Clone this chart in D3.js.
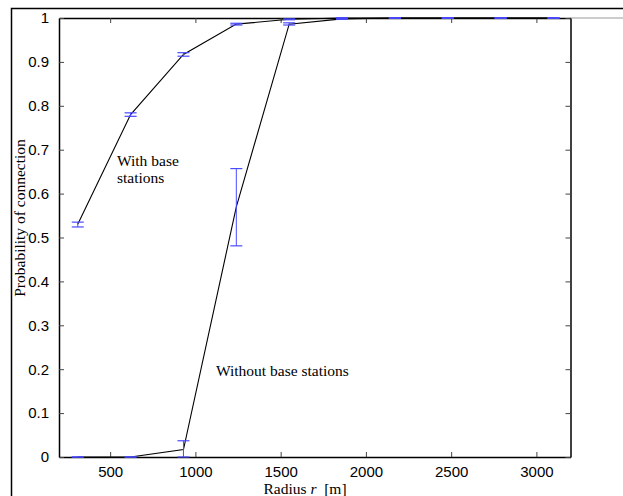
<!DOCTYPE html>
<html>
<head>
<meta charset="utf-8">
<script src="https://cdn.jsdelivr.net/npm/d3@7"></script>
<style>
  html, body { margin: 0; padding: 0; background: #fff; }
  svg { display: block; }
</style>
</head>
<body>
<svg id="chart" width="623" height="496"></svg>
<script>
// ---- data ----
const radius = [310, 620, 930, 1240, 1550, 1860, 2170, 2480, 2790, 3100];
const withBS = [0.530, 0.780, 0.917, 0.986, 0.997, 1, 1, 1, 1, 1];
const withBSLow = [0.524, 0.776, 0.913, 0.984, 0.996, 1, 1, 1, 1, 1];
const withBSHigh = [0.535, 0.784, 0.921, 0.988, 0.998, 1, 1, 1, 1, 1];
const withoutBS = [0, 0, 0.017, 0.570, 0.986, 0.998, 1, 1, 1, 1];
const withoutBSLow = [0, 0, 0, 0.481, 0.984, 0.997, 1, 1, 1, 1];
const withoutBSHigh = [0, 0, 0.037, 0.657, 0.989, 1, 1, 1, 1, 1];
const xTicks = [500, 1000, 1500, 2000, 2500, 3000];
const yTicks = [0, 0.1, 0.2, 0.3, 0.4, 0.5, 0.6, 0.7, 0.8, 0.9, 1];
const yTickLabels = ["0", "0.1", "0.2", "0.3", "0.4", "0.5", "0.6", "0.7", "0.8", "0.9", "1"];

const svg = d3.select("#chart");
const L = 59, R = 570.5, T = 18, B = 457;
const x = d3.scaleLinear().domain([200, 3200]).range([L, R]);
const y = d3.scaleLinear().domain([0, 1]).range([B, T]);

// outer frame
svg.append("path").attr("d", `M11.5,496 L11.5,8.5 L623,8.5`)
  .attr("fill", "none").attr("stroke", "#000").attr("stroke-width", 1.5);

// top axis line extension to the right edge
svg.append("line").attr("x1", R).attr("x2", 623).attr("y1", T).attr("y2", T)
  .attr("stroke", "#999").attr("stroke-width", 1);

// axes
const tickColor = "#444";
const fontSans = "'Liberation Sans', Arial, sans-serif";
const fontSerif = "'Liberation Serif', 'Times New Roman', serif";

const xBottom = svg.append("g").attr("transform", `translate(0,${B})`)
  .call(d3.axisBottom(x).tickValues(xTicks).tickSizeInner(-5).tickSizeOuter(0).tickPadding(9).tickFormat(d3.format("d")));
const xTop = svg.append("g").attr("transform", `translate(0,${T})`)
  .call(d3.axisTop(x).tickValues(xTicks).tickSizeInner(-5).tickSizeOuter(0).tickFormat(""));
const yLeft = svg.append("g").attr("transform", `translate(${L},0)`)
  .call(d3.axisLeft(y).tickValues(yTicks).tickSizeInner(-5).tickSizeOuter(0).tickPadding(10)
    .tickFormat((d, i) => yTickLabels[i]));
const yRight = svg.append("g").attr("transform", `translate(${R},0)`)
  .call(d3.axisRight(y).tickValues(yTicks).tickSizeInner(-5).tickSizeOuter(0).tickFormat(""));

[xBottom, xTop, yLeft, yRight].forEach(g => {
  g.select(".domain").attr("stroke", "#000").attr("stroke-width", 1.5);
  g.selectAll(".tick line").attr("stroke", tickColor).attr("stroke-width", 1);
  g.selectAll("text").attr("font-family", fontSans).attr("font-size", 15).attr("fill", "#000");
});

// series lines
const line = d3.line().x(d => x(d[0])).y(d => y(d[1]));
svg.append("path").datum(radius.map((r, i) => [r, withBS[i]]))
  .attr("d", line).attr("fill", "none").attr("stroke", "#000").attr("stroke-width", 1.1);
svg.append("path").datum(radius.map((r, i) => [r, withoutBS[i]]))
  .attr("d", line).attr("fill", "none").attr("stroke", "#000").attr("stroke-width", 1.1);

// error bars
const blue = "#4a4aff";
const cap = 6;
function errorBars(lo, hi) {
  const g = svg.append("g");
  radius.forEach((r, i) => {
    const cx = x(r);
    g.append("line").attr("x1", cx).attr("x2", cx).attr("y1", y(lo[i])).attr("y2", y(hi[i]))
      .attr("stroke", blue).attr("stroke-width", 1);
    [lo[i], hi[i]].forEach(v => {
      g.append("line").attr("x1", cx - cap).attr("x2", cx + cap).attr("y1", y(v)).attr("y2", y(v))
        .attr("stroke", blue).attr("stroke-width", 1.2);
    });
  });
}
errorBars(withBSLow, withBSHigh);
errorBars(withoutBSLow, withoutBSHigh);

// annotations
svg.append("text").attr("x", 117).attr("y", 166).attr("font-family", fontSerif).attr("font-size", 15.5)
  .text("With base");
svg.append("text").attr("x", 117).attr("y", 183).attr("font-family", fontSerif).attr("font-size", 15.5)
  .text("stations");
svg.append("text").attr("x", 216).attr("y", 376).attr("font-family", fontSerif).attr("font-size", 15.5)
  .text("Without base stations");

// axis labels
const xl = svg.append("text").attr("x", 305).attr("y", 494).attr("text-anchor", "middle")
  .attr("font-family", fontSerif).attr("font-size", 15.5);
xl.append("tspan").text("Radius ");
xl.append("tspan").attr("font-style", "italic").text("r");
xl.append("tspan").text("\u00a0 [m]");

svg.append("text").attr("transform", "translate(25,218) rotate(-90)").attr("text-anchor", "middle")
  .attr("font-family", fontSerif).attr("font-size", 15.5).text("Probability of connection");
</script>
</body>
</html>
